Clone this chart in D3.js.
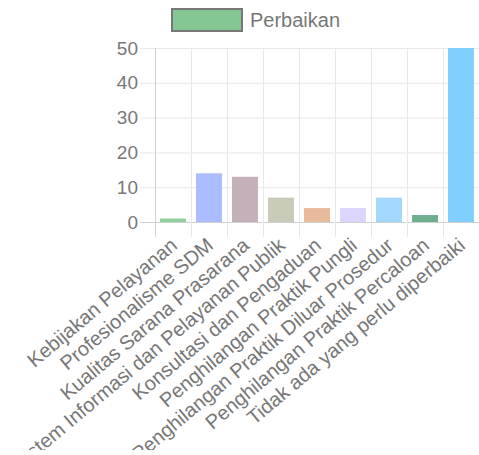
<!DOCTYPE html>
<html>
<head>
<meta charset="utf-8">
<script src="https://cdn.jsdelivr.net/npm/d3@7"></script>
<style>
    body { margin: 0; background: #fff; }
    text { font-family: "Liberation Sans", Arial, sans-serif; fill: #777; }
</style>
</head>
<body>
<svg width="479" height="450"></svg>
<script>
var categories = [
    "Kebijakan Pelayanan",
    "Profesionalisme SDM",
    "Kualitas Sarana Prasarana",
    "Sistem Informasi dan Pelayanan Publik",
    "Konsultasi dan Pengaduan",
    "Penghilangan Praktik Pungli",
    "Penghilangan Praktik Diluar Prosedur",
    "Penghilangan Praktik Percaloan",
    "Tidak ada yang perlu diperbaiki"
];
var values = [1, 14, 13, 7, 4, 4, 7, 2, 50];
var colors = ["#8fcf9b", "#abbdff", "#c3b0b9", "#c8cbb8", "#e8b99a", "#dcd5fe", "#a3d7fe", "#6cae8e", "#80cfff"];
var yTicks = [0, 10, 20, 30, 40, 50];
var seriesName = "Perbaikan";

var svg = d3.select("svg");
var plot = { left: 155, right: 479, top: 48, bottom: 222 };

var x = d3.scaleBand().domain(categories).range([plot.left, plot.right]);
var y = d3.scaleLinear().domain([0, 50]).range([plot.bottom, plot.top]);

//横向网格
svg.append("g").selectAll("line").data(yTicks).enter()
    .append("line")
    .attr("x1", plot.left - 15).attr("x2", plot.right)
    .attr("y1", d => y(d) + 0.5).attr("y2", d => y(d) + 0.5)
    .attr("stroke", d => d == 0 ? "#d0d0d0" : "#e8e8e8");

//纵向网格
svg.append("g").selectAll("line").data(categories).enter()
    .append("line")
    .attr("x1", d => x(d) + 0.5).attr("x2", d => x(d) + 0.5)
    .attr("y1", plot.top).attr("y2", plot.bottom + 15)
    .attr("stroke", (d, i) => i == 0 ? "#d0d0d0" : "#e8e8e8");

//y轴文字
svg.append("g").selectAll("text").data(yTicks).enter()
    .append("text")
    .attr("x", plot.left - 17)
    .attr("y", d => y(d))
    .attr("dy", "0.35em")
    .attr("text-anchor", "end")
    .style("font-size", "19px")
    .text(d => d);

//柱子
var inner = x.bandwidth() * 0.72;
svg.append("g").selectAll("rect").data(values).enter()
    .append("rect")
    .attr("x", (d, i) => x(categories[i]) + (x.bandwidth() - inner) / 2)
    .attr("width", inner)
    .attr("y", d => y(d))
    .attr("height", d => plot.bottom - y(d))
    .attr("fill", (d, i) => colors[i]);

//x轴文字
svg.append("g").selectAll("text").data(categories).enter()
    .append("text")
    .attr("text-anchor", "end")
    .attr("dy", "0.35em")
    .attr("transform", d => `translate(${x(d) + x.bandwidth() / 2 + 1}, 242) rotate(-40)`)
    .style("font-size", "20px")
    .text(d => d);

//图例
svg.append("rect")
    .attr("x", 172).attr("y", 9).attr("width", 70).attr("height", 22)
    .attr("fill", "#84c795").attr("stroke", "#777").attr("stroke-width", 2);
svg.append("text")
    .attr("x", 250).attr("y", 20).attr("dy", "0.35em")
    .style("font-size", "20px")
    .text(seriesName);
</script>
</body>
</html>
